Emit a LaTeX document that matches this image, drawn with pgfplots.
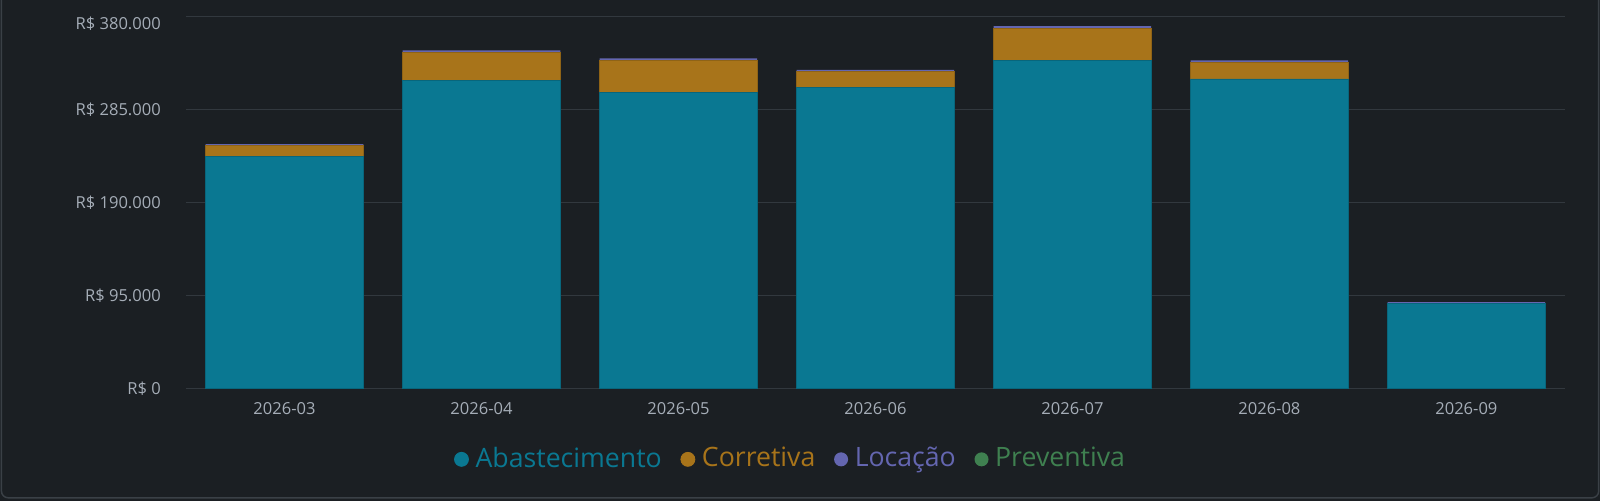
\documentclass[border=0pt]{standalone}
\usepackage{pgfplots}
\pgfplotsset{compat=1.18}
\usepackage{fontspec}
\setmainfont{Open Sans}
\definecolor{bg}{HTML}{1B1F23}
\definecolor{cardborder}{HTML}{3A4046}
\definecolor{gridc}{HTML}{32383E}
\definecolor{tickc}{HTML}{A5ADB7}
\definecolor{cabast}{HTML}{0A7892}
\definecolor{ccorr}{HTML}{A8741A}
\definecolor{cloc}{HTML}{6466B0}
\definecolor{cprev}{HTML}{3F8050}
\pgfplotstableread{
x abast corr loc prev
0 237300 10500 1700 0
1 314200 28600 2400 0
2 302400 32700 2000 0
3 307100 16300 2000 0
4 334600 33100 2300 0
5 316000 17100 2000 0
6 86400 0 1700 0
}\datatab
\begin{document}
\begin{tikzpicture}
\fill[bg] (0pt,0pt) rectangle (1200pt,375.75pt);
\useasboundingbox (0pt,0pt) rectangle (1200pt,375.75pt);
\draw[cardborder, line width=1.1pt, rounded corners=5pt] (1.1pt,390pt) -- (1.1pt,2.4pt) -- (1199pt,2.4pt) -- (1199pt,390pt);
\begin{axis}[
  at={(139.5pt,84.5pt)}, anchor=south west,
  scale only axis, width=1034.25pt, height=279pt,
  ybar stacked, bar width=0.8,
  xmin=-0.5, xmax=6.5, ymin=0, ymax=380000,
  scaled y ticks=false,
  xtick={0,...,6},
  xticklabels={\mbox{2026-03},\mbox{2026-04},\mbox{2026-05},\mbox{2026-06},\mbox{2026-07},\mbox{2026-08},\mbox{2026-09}},
  ytick={0,95000,190000,285000,380000},
  yticklabels={\mbox{R\$ 0},\mbox{R\$ 95.000},\mbox{R\$ 190.000},\mbox{R\$ 285.000},\raisebox{-5.5pt}[\height][\depth]{R\$ 380.000}},
  /pgf/number format/assume math mode=true,
  ymajorgrids, grid style={gridc, line width=1.1pt},
  axis line style={draw=none}, major tick length=0pt, tick style={draw=none},
  tick label style={font=\fontsize{12.4}{14}\selectfont, text=tickc, inner sep=0pt},
  yticklabel style={anchor=east, xshift=-18.75pt},
  xticklabel style={anchor=north, yshift=-10.5pt},
  legend columns=4,
  legend style={at={(0.4387,-0.1873)}, anchor=center, draw=none, fill=none,
    font=\fontsize{20}{24}\selectfont,
    /tikz/every even column/.append style={column sep=12pt}},
]
\addplot[fill=cabast, draw=cabast!85!black, line width=0.6pt,
  legend image code/.code={\fill[cabast] (5.25pt,-1pt) circle (5.25pt);\path (13.5pt,-1pt);}]
  table[x=x,y=abast]{\datatab};
\addlegendentry{\textcolor{cabast}{Abastecimento}}
\addplot[fill=ccorr, draw=ccorr!85!black, line width=0.6pt,
  legend image code/.code={\fill[ccorr] (5.25pt,-1pt) circle (5.25pt);\path (13.5pt,-1pt);}]
  table[x=x,y=corr]{\datatab};
\addlegendentry{\textcolor{ccorr}{Corretiva}}
\addplot[fill=cloc, draw=none,
  legend image code/.code={\fill[cloc] (5.25pt,-1pt) circle (5.25pt);\path (13.5pt,-1pt);}]
  table[x=x,y=loc]{\datatab};
\addlegendentry{\textcolor{cloc}{Locação}}
\addplot[fill=cprev, draw=none,
  legend image code/.code={\fill[cprev] (5.25pt,-1pt) circle (5.25pt);\path (13.5pt,-1pt);}]
  table[x=x,y=prev]{\datatab};
\addlegendentry{\textcolor{cprev}{Preventiva}}
\end{axis}
\end{tikzpicture}
\end{document}
